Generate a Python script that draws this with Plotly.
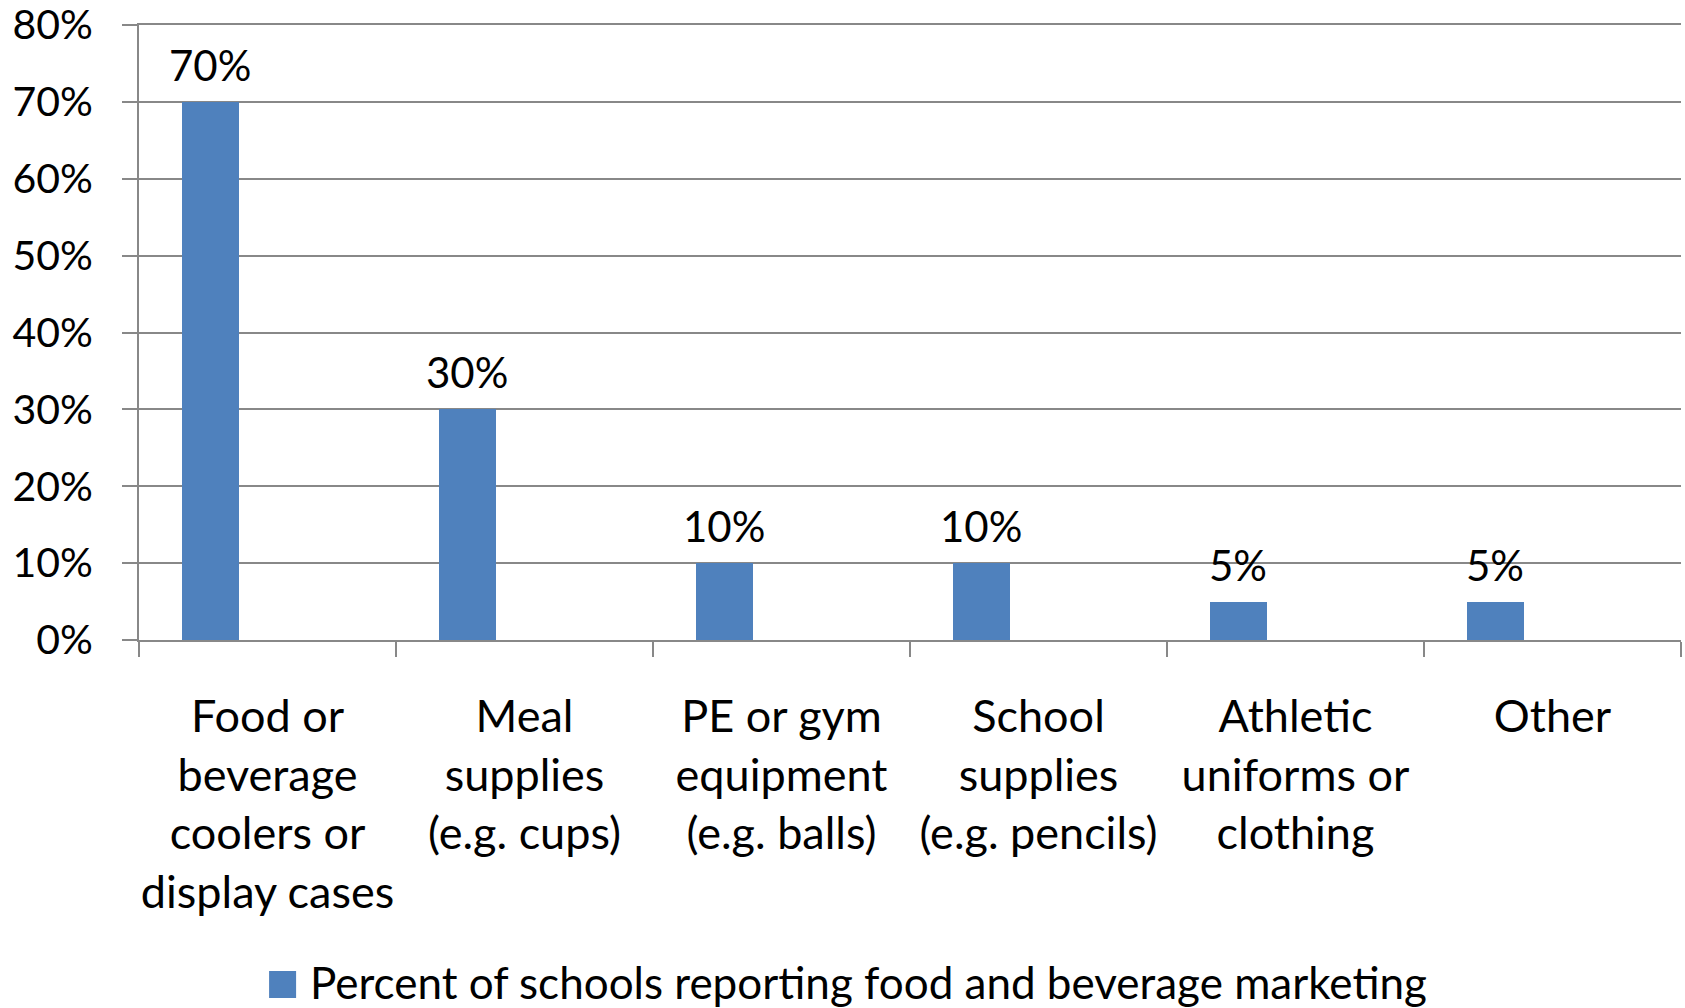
import plotly.graph_objects as go

# Chart data
categories = [
    "Food or<br>beverage<br>coolers or<br>display cases",
    "Meal<br>supplies<br>(e.g. cups)",
    "PE or gym<br>equipment<br>(e.g. balls)",
    "School<br>supplies<br>(e.g. pencils)",
    "Athletic<br>uniforms or<br>clothing",
    "Other",
]
values = [0.70, 0.30, 0.10, 0.10, 0.05, 0.05]
value_labels = ["70%", "30%", "10%", "10%", "5%", "5%"]
series_name = "Percent of schools reporting food and beverage marketing"
y_ticks = [0, 0.1, 0.2, 0.3, 0.4, 0.5, 0.6, 0.7, 0.8]

FONT = "Lato"
FS = 45
FS_Y = 41
FS_LEG = 44
BLUE = "#4F81BD"
GRID = "#888888"

# Bars sit in the first of three slots in each category (gap = 1/3 of the category)
BAR_W = 2 / 9
BAR_OFF = -1 / 3

fig = go.Figure()
fig.add_trace(go.Bar(
    x=categories,
    y=values,
    name=series_name,
    width=BAR_W,
    offset=BAR_OFF,
    marker=dict(color=BLUE, line=dict(width=0)),
    showlegend=False,
))

# Value labels above each bar
for i, (v, t) in enumerate(zip(values, value_labels)):
    fig.add_annotation(
        x=i + BAR_OFF + BAR_W / 2, y=v, xref="x", yref="y",
        text=t, showarrow=False, yanchor="bottom", yshift=10,
        font=dict(family=FONT, size=42, color="black"),
    )

# Legend drawn as a swatch and a caption under the chart
fig.add_shape(
    type="rect", xref="paper", yref="paper",
    x0=(269 - 139) / 1541, x1=(296 - 139) / 1541,
    y0=-(998 - 640) / 615, y1=-(971 - 640) / 615,
    fillcolor=BLUE, line=dict(width=0),
)
fig.add_annotation(
    xref="paper", yref="paper",
    x=(308 - 139) / 1541, y=-(982 - 640) / 615,
    xanchor="left", yanchor="middle",
    text=series_name, showarrow=False,
    font=dict(family=FONT, size=FS_LEG, color="black"),
)

fig.update_layout(
    width=1685, height=1008,
    margin=dict(l=139, r=4, t=25, b=368),
    plot_bgcolor="white", paper_bgcolor="white",
    font=dict(family=FONT, size=FS, color="black"),
    bargap=0, showlegend=False,
)
fig.update_xaxes(
    type="category",
    range=[-0.5, 5.5],
    tickson="boundaries",
    tickangle=0,
    ticks="outside", ticklen=15, tickwidth=2, tickcolor=GRID,
    showline=True, linecolor=GRID, linewidth=2,
    mirror=True,  # top border doubles as the 80% gridline
    showgrid=False,
    tickfont=dict(family=FONT, size=FS, color="black"),
    ticklabelstandoff=36,
    automargin=False,
)
fig.update_yaxes(
    range=[0, 0.8],
    tickvals=y_ticks,
    tickformat=".0%",
    ticks="outside", ticklen=15, tickwidth=2, tickcolor=GRID,
    showline=True, linecolor=GRID, linewidth=2,
    showgrid=True, gridcolor=GRID, gridwidth=2,
    zeroline=False,
    tickfont=dict(family=FONT, size=FS_Y, color="black"),
    ticklabelstandoff=21,
    ticklabeloverflow="allow",
    automargin=False,
)

fig.write_html("out.html")
